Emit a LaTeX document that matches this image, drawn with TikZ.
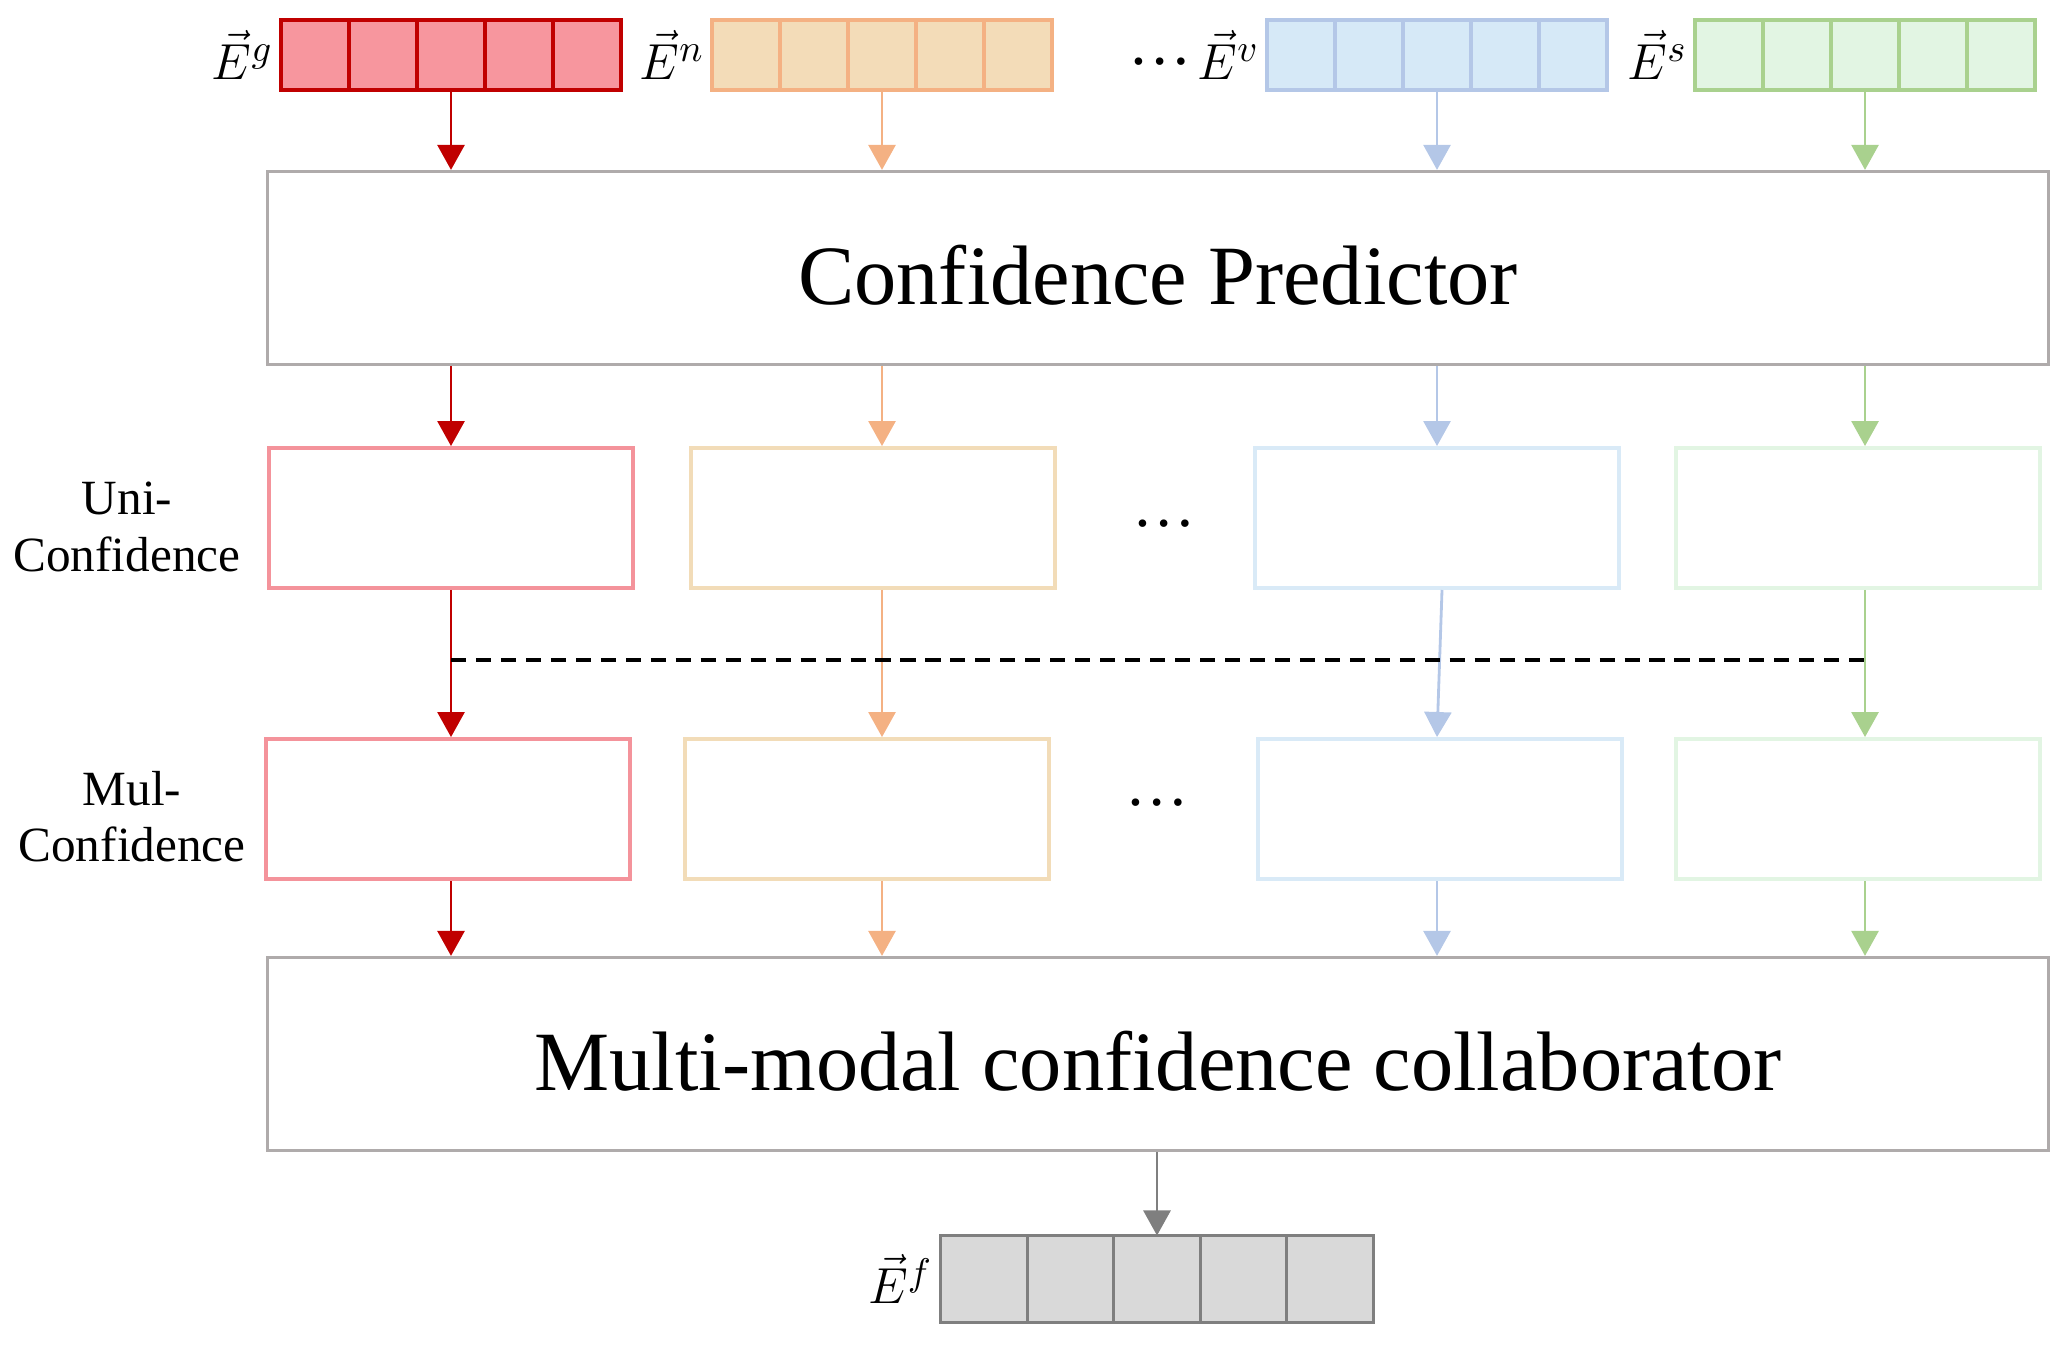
\documentclass[tikz,border=0pt]{standalone}
\usepackage{fontspec}
\setmainfont{Liberation Serif}
\usetikzlibrary{arrows.meta}

\definecolor{lineg}{HTML}{C00000}
\definecolor{fillg}{HTML}{F7969E}
\definecolor{boxg}{HTML}{F4939B}
\definecolor{linen}{HTML}{F4B183}
\definecolor{filln}{HTML}{F3DCB8}
\definecolor{boxn}{HTML}{F2DCB8}
\definecolor{linev}{HTML}{B4C7E7}
\definecolor{fillv}{HTML}{D6E9F7}
\definecolor{boxv}{HTML}{D9EAF7}
\definecolor{lines}{HTML}{A9D18E}
\definecolor{fills}{HTML}{E2F5E3}
\definecolor{boxs}{HTML}{E2F5E3}
\definecolor{linef}{HTML}{7F7F7F}
\definecolor{fillf}{HTML}{D9D9D9}
\definecolor{boxgray}{HTML}{AFABAB}

\def\cellsep{68}

\begin{document}
\begin{tikzpicture}[x=0.01cm, y=-0.01cm, line width=0.8pt,
    >={Triangle[length=0.25cm,width=0.27cm]}]
    \tikzstyle{cell}=[rectangle, draw, minimum width=0.68cm, minimum height=0.70cm, inner sep=0pt, outer sep=0pt, line width=0.9pt]
    \tikzstyle{out cell}=[cell, draw=linef, fill=fillf, minimum width=0.866cm, minimum height=0.87cm];
    \tikzstyle{conf box}=[rectangle, draw, minimum width=3.64cm, minimum height=1.40cm, inner sep=0pt, line width=1.1pt];
    \tikzstyle{big box}=[rectangle, draw=boxgray, minimum width=17.8cm, minimum height=1.93cm, line width=0.9pt, text height=21pt, text depth=0pt, font=\fontsize{24}{28}\selectfont];
    \tikzstyle{annot}=[align=center, font=\fontsize{14}{16}\selectfont]
    \tikzstyle{vec label}=[annot, anchor=east, xshift=1.5pt, font=\fontsize{15}{17}\selectfont]
    \tikzstyle{etc}=[inner sep=0pt, font=\fontsize{18}{20}\selectfont]

    \useasboundingbox (0,0) rectangle (2067,1344);

    % Draw the input vectors
    \foreach \name / \x / \c in {G/451/g, N/882/n, V/1437/v, S/1865/s}
        \foreach \i in {1,...,5}
            \node[cell, draw=line\c, fill=fill\c] (\name-\i) at (\x+\cellsep*\i-3*\cellsep, 55) {};

    \node[vec label] (lab-g) at (G-1.west) {$\vec{E}^{g}$};
    \node[vec label] (lab-n) at (N-1.west) {$\vec{E}^{n}$};
    \node[vec label] (lab-v) at (V-1.west) {$\vec{E}^{v}$};
    \node[vec label] (lab-s) at (S-1.west) {$\vec{E}^{s}$};
    \node[etc] (dots-in) at (1160,62) {…};

    % Draw the two big boxes
    \node[big box] (cp) at (1158,268) {Confidence Predictor};
    \node[big box] (mm) at (1158,1054) {Multi-modal confidence collaborator};

    % Draw the confidence boxes
    \foreach \name / \x / \c in {1/451/g, 2/873/n, 3/1437/v, 4/1858/s}
        \node[conf box, draw=box\c] (U-\name) at (\x, 518) {};

    \foreach \name / \x / \c in {1/448/g, 2/867/n, 3/1440/v, 4/1858/s}
        \node[conf box, draw=box\c] (M-\name) at (\x, 809) {};

    \node[etc] (dots-u) at (1164,524) {…};
    \node[etc] (dots-m) at (1157,803) {…};
    \node[annot] (uni) at (127,527) {Uni-\\Confidence};
    \node[annot] (mul) at (132,817) {Mul-\\Confidence};

    % Draw the output vector
    \foreach \i in {1,...,5}
        \node[out cell] (F-\i) at (1157+86.6*\i-3*86.6, 1279) {};
    \node[vec label] (lab-f) at (F-1.west) {$\vec{E}^{f}$};

    % Connect every vector with its column of boxes
    \foreach \name / \c / \k / \dx in {G/g/1/0, N/n/2/0, V/v/3/5, S/s/4/0} {
        \draw[->, draw=line\c] (\name-3.south) -- (cp.north -| \name-3);
        \draw[->, draw=line\c] (cp.south -| \name-3) -- (U-\k.north -| \name-3);
        \draw[->, draw=line\c] ([xshift=\dx*0.01cm]U-\k.south -| \name-3) -- (M-\k.north -| \name-3);
        \draw[->, draw=line\c] (M-\k.south -| \name-3) -- (mm.north -| \name-3);
    }

    \coordinate (dash) at (0,660);
    \draw[black, line width=0.9pt, dash pattern=on 4.3pt off 2.8pt] (G-3 |- dash) -- (S-3 |- dash);

    \draw[->, draw=linef] (mm.south -| F-3) -- (F-3.north);
\end{tikzpicture}
\end{document}
